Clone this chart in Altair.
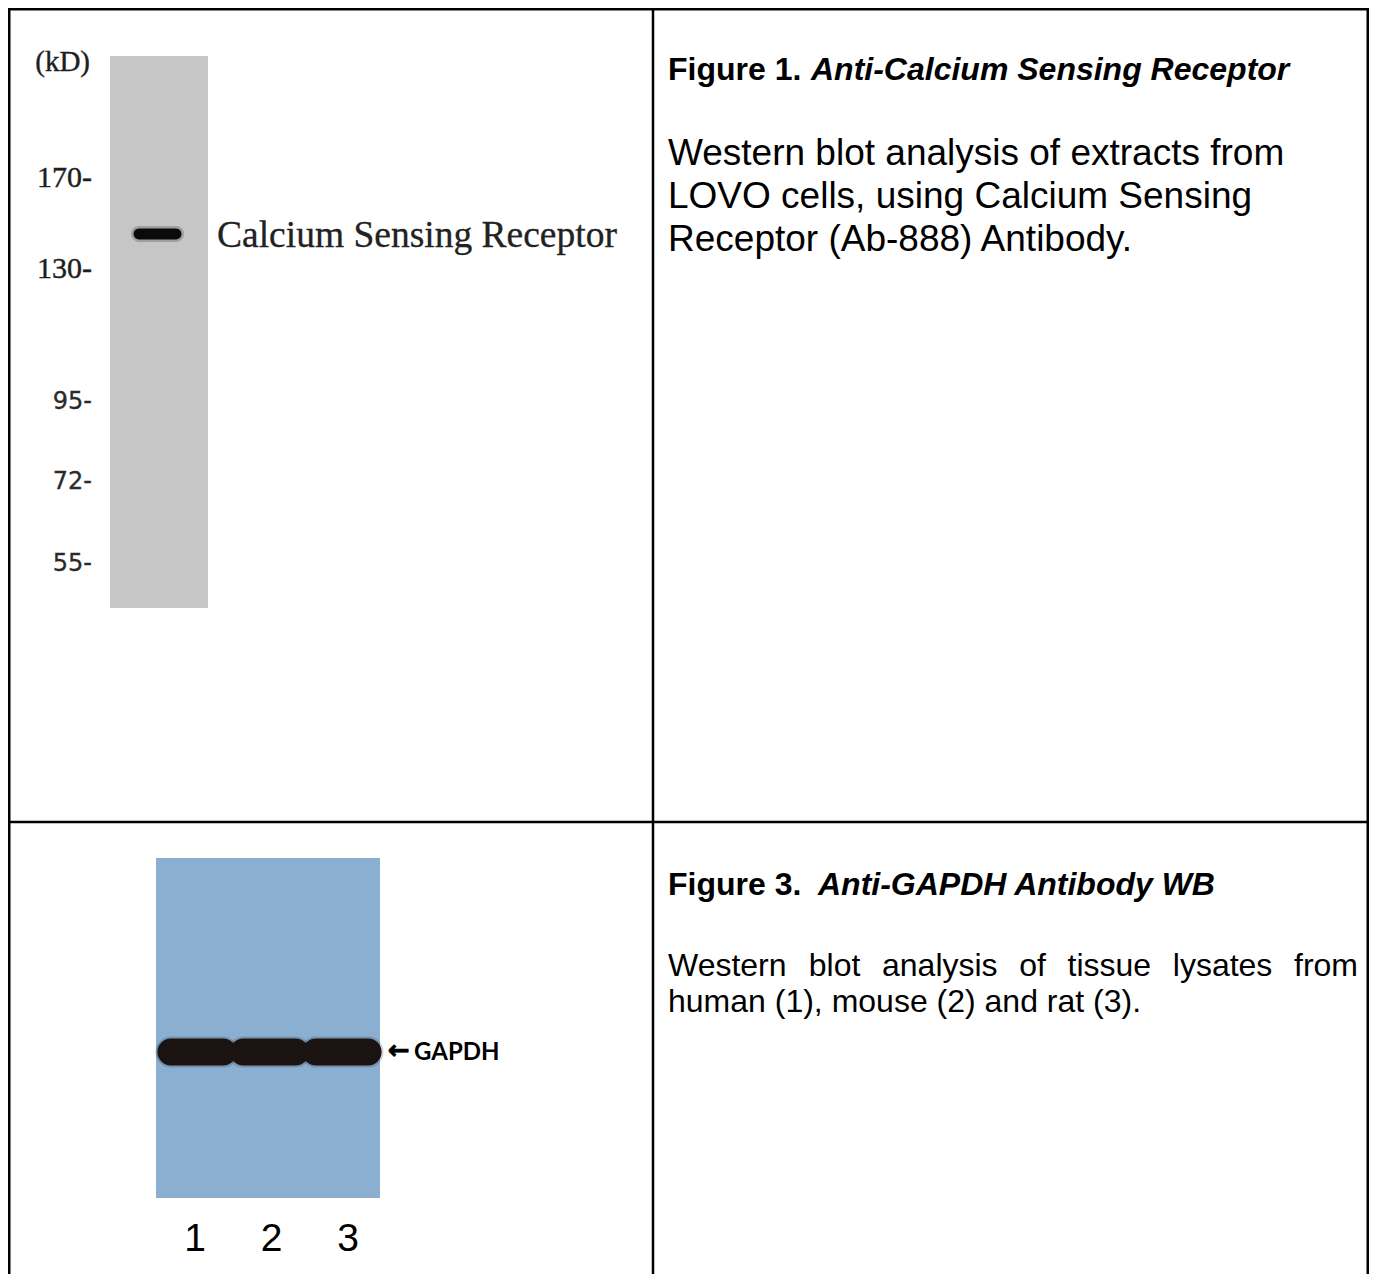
import altair as alt
import pandas as pd

W, H = 1361, 1266

# ---------------- data ----------------
# Figure 1: molecular-weight ladder (kD) and the detected band
marker_kd = [170, 130, 95, 72, 55]
marker_labels = ["170-", "130-", "95-", "72-", "55-"]
band_kd = [145]
band_names = ["Calcium Sensing Receptor"]

# Figure 3: lanes of the GAPDH blot
lanes = [1, 2, 3]
lane_labels = ["1", "2", "3"]
gapdh_name = ["GAPDH"]

# captions
fig1_title = ["Figure 1.", "Anti-Calcium Sensing Receptor"]
fig1_body = [
    "Western blot analysis of extracts from",
    "LOVO cells, using Calcium Sensing",
    "Receptor (Ab-888) Antibody.",
]
fig3_title = ["Figure 3.", "Anti-GAPDH Antibody WB"]
fig3_body = [
    "Western blot analysis of tissue lysates from",
    "human (1), mouse (2) and rat (3).",
]

# ---------------- helpers ----------------
one = pd.DataFrame({"k": [0]})
SANS = "Liberation Sans"
SERIF = "Liberation Serif"

kd_scale = alt.Scale(domain=[55, 72, 95, 130, 170], range=[554, 472, 392, 260, 169],
                     nice=False, zero=False)
lane_scale = alt.Scale(domain=[1, 3], range=[189, 334], nice=False, zero=False)
lane_label_scale = alt.Scale(domain=[1, 3], range=[187, 340], nice=False, zero=False)


def vrule(x, y0=0, y1=H):
    return alt.Chart(one).mark_rule(color="black", strokeWidth=2.5).encode(
        x=alt.value(x), y=alt.value(y0), y2=alt.value(y1))


def hrule(y, x0=0, x1=W):
    return alt.Chart(one).mark_rule(color="black", strokeWidth=2.5).encode(
        y=alt.value(y), x=alt.value(x0), x2=alt.value(x1))


def static_text(s, x, y, size, font=SANS, weight="normal", style="normal",
                align="left", color="black"):
    return alt.Chart(pd.DataFrame({"t": [s]})).mark_text(
        font=font, fontSize=size, fontWeight=weight, fontStyle=style,
        align=align, baseline="alphabetic", color=color,
    ).encode(x=alt.value(x), y=alt.value(y), text="t:N")


def line_block(lines, x, y_first, line_h, size):
    df = pd.DataFrame({"line": lines, "i": list(range(len(lines)))})
    return alt.Chart(df).mark_text(
        font=SANS, fontSize=size, align="left", baseline="alphabetic", color="black"
    ).encode(
        x=alt.value(x),
        y=alt.Y("i:Q", scale=alt.Scale(domain=[0, 1], range=[y_first, y_first + line_h],
                                        nice=False, zero=False), axis=None),
        text="line:N",
    )


# Helvetica/Arial advance widths (per 1000 em) for justifying a line
HELV = {" ": 278, "W": 944, "a": 556, "b": 556, "c": 500, "d": 556, "e": 556, "f": 278,
        "g": 556, "h": 556, "i": 222, "l": 222, "m": 833, "n": 556, "o": 556, "r": 333,
        "s": 500, "t": 278, "u": 556, "x": 500, "y": 500}


def adv(s, size):
    return sum(HELV.get(c, 556) for c in s) * size / 1000.0


def justified_line(text, x0, x1, y, size):
    words = text.split()
    widths = [adv(w, size) for w in words]
    gap = (x1 - x0 - sum(widths)) / (len(words) - 1)
    pos, p = [], 0.0
    for w in widths:
        pos.append(p)
        p += w + gap
    df = pd.DataFrame({"w": words, "pos": pos})
    return alt.Chart(df).mark_text(
        font=SANS, fontSize=size, align="left", baseline="alphabetic", color="black"
    ).encode(
        x=alt.X("pos:Q", scale=alt.Scale(domain=[0, x1 - x0], range=[x0, x1],
                                          nice=False, zero=False), axis=None),
        y=alt.value(y),
        text="w:N",
    )


layers = []

# ---------------- Figure 1 blot ----------------
layers.append(alt.Chart(one).mark_rect(color="#c6c6c6").encode(
    x=alt.value(102), x2=alt.value(200), y=alt.value(48), y2=alt.value(600)))

markers = pd.DataFrame({"kD": marker_kd, "label": marker_labels})
layers.append(alt.Chart(markers).transform_filter("datum.kD > 100").mark_text(
    font=SERIF, fontSize=30, align="right", baseline="alphabetic", dy=10, color="#1e1e1e",
    stroke="#1e1e1e", strokeWidth=0.4
).encode(x=alt.value(84), y=alt.Y("kD:Q", scale=kd_scale, axis=None), text="label:N"))
layers.append(alt.Chart(markers).transform_filter("datum.kD < 100").mark_text(
    font="DejaVu Sans", fontSize=24, align="right", baseline="alphabetic", dy=9, color="#2a2a2a",
    stroke="#2a2a2a", strokeWidth=0.3
).encode(x=alt.value(84), y=alt.Y("kD:Q", scale=kd_scale, axis=None), text="label:N"))
layers.append(alt.Chart(pd.DataFrame({"t": ["(kD)"]})).mark_text(
    font=SERIF, fontSize=29, align="right", baseline="alphabetic", color="#1e1e1e",
    stroke="#1e1e1e", strokeWidth=0.4
).encode(x=alt.value(82), y=alt.value(63), text="t:N"))

band1 = pd.DataFrame({"kD": band_kd, "name": band_names})
layers.append(alt.Chart(band1).mark_rule(color="#111111", strokeWidth=16, strokeCap="round",
                                         opacity=0.22).encode(
    x=alt.value(131), x2=alt.value(168), y=alt.Y("kD:Q", scale=kd_scale, axis=None)))
layers.append(alt.Chart(band1).mark_rule(color="#0a0a0a", strokeWidth=11, strokeCap="round").encode(
    x=alt.value(131), x2=alt.value(168), y=alt.Y("kD:Q", scale=kd_scale, axis=None)))
layers.append(alt.Chart(band1).mark_text(
    font=SERIF, fontSize=37.5, align="left", baseline="alphabetic", dy=13, color="#222222",
    stroke="#222222", strokeWidth=0.3
).encode(x=alt.value(209), y=alt.Y("kD:Q", scale=kd_scale, axis=None), text="name:N"))

# ---------------- Figure 1 caption ----------------
layers.append(static_text(fig1_title[0], 660, 72, 32, weight="bold"))
layers.append(static_text(fig1_title[1], 803, 72, 32, weight="bold", style="italic"))
layers.append(line_block(fig1_body, 660, 157, 43, 37))

# ---------------- Figure 3 blot ----------------
layers.append(alt.Chart(one).mark_rect(color="#8aafd1").encode(
    x=alt.value(148), x2=alt.value(372), y=alt.value(850), y2=alt.value(1190)))

lane_df = pd.DataFrame({"lane": lanes, "label": lane_labels})
band_base = alt.Chart(lane_df).transform_calculate(
    x0="datum.lane - 0.36", x1="datum.lane + 0.36")
layers.append(band_base.mark_rule(color="#1a1311", strokeWidth=31, strokeCap="round",
                                  opacity=0.18).encode(
    x=alt.X("x0:Q", scale=lane_scale, axis=None), x2="x1:Q", y=alt.value(1044)))
layers.append(band_base.mark_rule(color="#1a1311", strokeWidth=27, strokeCap="round").encode(
    x=alt.X("x0:Q", scale=lane_scale, axis=None), x2="x1:Q", y=alt.value(1044)))

layers.append(alt.Chart(lane_df).mark_text(
    font=SANS, fontSize=39, align="center", baseline="alphabetic", color="black"
).encode(x=alt.X("lane:Q", scale=lane_label_scale, axis=None), y=alt.value(1243),
         text="label:N"))

layers.append(alt.Chart(pd.DataFrame({"t": ["\u2190"]})).mark_text(
    font="DejaVu Sans", fontSize=26, fontWeight="bold", align="left", baseline="alphabetic",
    color="black", stroke="black", strokeWidth=0.8
).encode(x=alt.value(380), y=alt.value(1051), text="t:N"))
layers.append(alt.Chart(pd.DataFrame({"g": gapdh_name})).mark_text(
    font="Lato", fontSize=24, fontWeight="bold", align="left", baseline="alphabetic",
    color="black").encode(x=alt.value(406), y=alt.value(1052), text="g:N"))

# ---------------- Figure 3 caption ----------------
layers.append(static_text(fig3_title[0], 660, 887, 32, weight="bold"))
layers.append(static_text(fig3_title[1], 810, 887, 32, weight="bold", style="italic"))
layers.append(justified_line(fig3_body[0], 660, 1350, 968, 32))
layers.append(static_text(fig3_body[1], 660, 1004, 32))

# ---------------- table borders ----------------
layers += [vrule(1.25), vrule(645), vrule(W - 1.25), hrule(1.25), hrule(814)]

chart = alt.layer(*layers).resolve_scale(x="independent", y="independent").properties(
    width=W, height=H, padding=0, autosize="none", background="white"
).configure_view(stroke=None)

chart.save("out.html", embed_options={"renderer": "svg", "actions": False})
